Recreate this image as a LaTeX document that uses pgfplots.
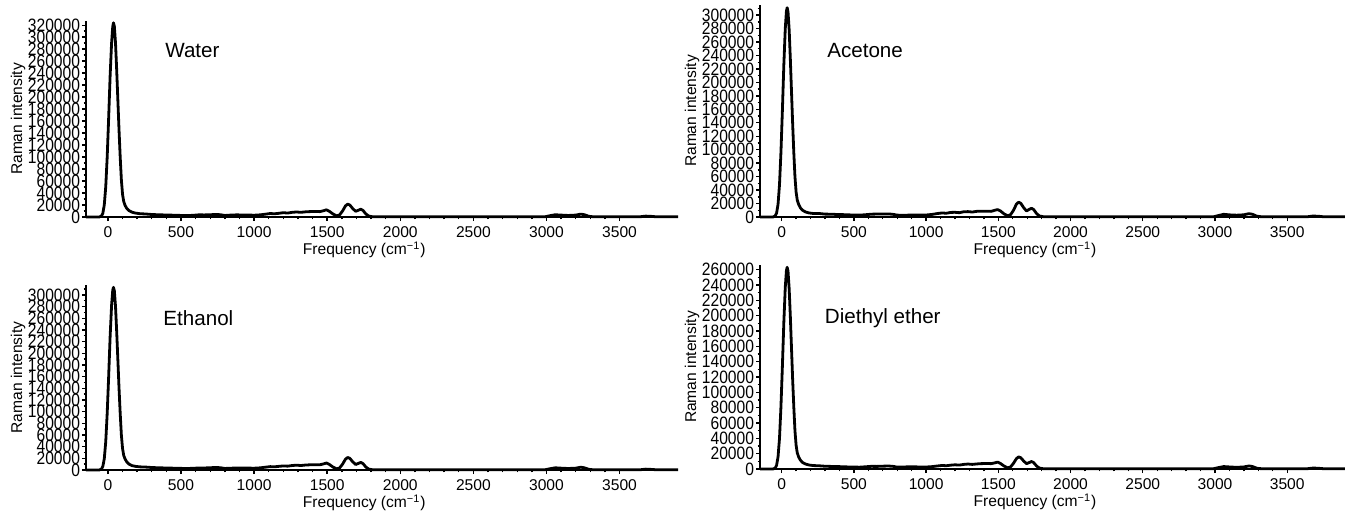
\documentclass[border=0pt]{standalone}
\usepackage{fontspec}
\setmainfont{Liberation Sans}
\usepackage{pgfplots}
\pgfplotsset{compat=1.18}

\pgfplotsset{raman/.style={
  scale only axis,
  xmin=-150, xmax=3900, ymin=0,
  axis x line=bottom, axis y line=left,
  axis line style={-, line width=1pt},
  xtick={0,500,...,3500}, minor x tick num=4,
  ytick distance=20000, minor y tick num=1,
  tick align=outside, major tick length=2pt, minor tick length=1.2pt,
  every tick/.style={black, line width=0.7pt},
  scaled y ticks=false, scaled x ticks=false,
  font=\fontsize{7.8}{8}\selectfont,
  /pgf/number format/fixed,
  /pgf/number format/precision=0,
  /pgf/number format/assume math mode=true,
  /pgf/number format/1000 sep={},
  yticklabel style={inner sep=0.8pt, yscale=1.15},
  xticklabel style={inner sep=2.8pt},
  xlabel={Frequency (cm\textsuperscript{−1})},
  ylabel={Raman intensity},
  xlabel style={at={(axis description cs:0.47,0)}, anchor=center, yshift=-16.5pt},
  ylabel style={at={(axis description cs:0,0.5)}, anchor=center, yshift=34pt},
  clip=false,
}}
\tikzset{spec/.style={black, line width=1.4pt, line join=round},
  lab/.style={anchor=west, inner sep=0pt, font=\fontsize{10.3}{12}\selectfont}}

\begin{document}
\begin{tikzpicture}
\useasboundingbox (0,0) rectangle (672.5pt,-258pt);

% Water
\begin{axis}[raman, width=296pt, height=98pt, ymax=327000,
  at={(43pt,-108.5pt)}, anchor=south west]
\addplot[spec] coordinates {
(-150,0) (-60,0) (-45,1500) (-35,6000) (-25,20000) (-15,50000) (-5,100000) (5,165000)
(15,235000) (25,290000) (33,318000) (38,324000) (44,318000) (52,290000) (60,245000)
(68,195000) (76,145000) (84,100000) (92,62000) (100,38000) (108,26000) (118,19000)
(130,14000) (145,10500) (165,8000) (190,6500) (220,5500) (260,5000) (300,4200)
(340,3800) (380,3500) (420,3200) (460,3000) (500,2600) (540,2400) (580,2800)
(620,3600) (660,3500) (700,3800) (740,4300) (770,3800) (800,2600) (840,3200)
(880,3600) (920,3400) (960,3300) (1000,3000) (1040,3600) (1080,4800) (1110,5800)
(1140,5400) (1170,6200) (1200,7200) (1230,6600) (1260,7800) (1290,8400) (1320,7800)
(1350,8600) (1380,9000) (1420,9200) (1450,9000) (1475,10500) (1495,12000) (1515,9500)
(1540,5000) (1565,2000) (1585,3500) (1605,10000) (1625,18500) (1640,21500) (1655,20000)
(1675,14000) (1695,9500) (1715,11500) (1730,13000) (1745,11000) (1765,5000) (1785,1500)
(1810,500) (2000,300) (2500,300) (2990,400) (3020,2000) (3060,3800) (3100,3200)
(3150,2600) (3200,3200) (3235,4800) (3260,3800) (3290,1200) (3320,400) (3640,400)
(3680,1500) (3720,1000) (3750,400) (3900,300)};
\node[lab] at (axis cs:390,277000) {Water};
\end{axis}

% Acetone
\begin{axis}[raman, width=292.5pt, height=106pt, ymax=315000,
  at={(380pt,-108.5pt)}, anchor=south west]
\addplot[spec] coordinates {
(-150,0) (-60,0) (-45,1500) (-35,6000) (-25,19000) (-15,48000) (-5,96000) (5,158000)
(15,226000) (25,280000) (33,306000) (38,311000) (44,305000) (52,278000) (60,235000)
(68,187000) (76,139000) (84,96000) (92,60000) (100,37000) (108,25000) (118,18500)
(130,13500) (145,10000) (165,7500) (190,6000) (220,5200) (260,5200) (300,4300)
(340,4200) (380,3800) (420,3600) (460,3200) (500,3000) (540,2800) (580,3400)
(620,4200) (660,4400) (700,4500) (740,4600) (770,4000) (800,2800) (840,2600)
(880,2800) (920,2900) (960,3000) (1000,3000) (1040,3800) (1080,5200) (1110,6000)
(1140,5600) (1170,6800) (1200,7000) (1230,6400) (1260,7800) (1290,8000) (1320,7400)
(1350,8400) (1380,8600) (1420,8600) (1450,8400) (1475,10000) (1495,11000) (1515,9000)
(1540,4500) (1565,1800) (1585,3500) (1605,10000) (1625,19000) (1640,22000) (1655,20500)
(1675,14000) (1695,9000) (1715,11500) (1730,13000) (1745,11000) (1765,5000) (1785,1500)
(1810,500) (2000,300) (2500,300) (2990,400) (3020,2000) (3060,4000) (3100,3200)
(3150,2700) (3200,3300) (3235,5000) (3260,4000) (3290,1200) (3320,400) (3640,400)
(3680,1500) (3720,1000) (3750,400) (3900,300)};
\node[lab] at (axis cs:313,248000) {Acetone};
\end{axis}

% Ethanol
\begin{axis}[raman, width=296pt, height=92.5pt, ymax=317000,
  at={(43pt,-235pt)}, anchor=south west]
\addplot[spec] coordinates {
(-150,0) (-60,0) (-45,1500) (-35,6000) (-25,19000) (-15,48000) (-5,97000) (5,160000)
(15,228000) (25,282000) (33,308000) (38,313000) (44,307000) (52,280000) (60,237000)
(68,189000) (76,140000) (84,97000) (92,60000) (100,37000) (108,25000) (118,18500)
(130,13500) (145,10000) (165,7500) (190,6200) (220,5400) (260,5000) (300,4300)
(340,3900) (380,3600) (420,3300) (460,3100) (500,2800) (540,2600) (580,2900)
(620,3500) (660,3500) (700,3900) (740,4400) (770,3900) (800,2700) (840,3100)
(880,3500) (920,3400) (960,3300) (1000,3100) (1040,3700) (1080,4900) (1110,5800)
(1140,5500) (1170,6300) (1200,7000) (1230,6600) (1260,7700) (1290,8300) (1320,7700)
(1350,8500) (1380,8900) (1420,9100) (1450,9000) (1475,10500) (1495,12000) (1515,9500)
(1540,5000) (1565,2000) (1585,3500) (1605,10000) (1625,18500) (1640,21500) (1655,20000)
(1675,14000) (1695,9500) (1715,11500) (1730,13000) (1745,11000) (1765,5000) (1785,1500)
(1810,500) (2000,300) (2500,300) (2990,400) (3020,2000) (3060,3800) (3100,3200)
(3150,2600) (3200,3200) (3235,4800) (3260,3800) (3290,1200) (3320,400) (3640,400)
(3680,1500) (3720,1000) (3750,400) (3900,300)};
\node[lab] at (axis cs:377,260000) {Ethanol};
\end{axis}

% Diethyl ether
\begin{axis}[raman, width=292.5pt, height=102pt, ymax=266000,
  at={(380pt,-234.5pt)}, anchor=south west]
\addplot[spec] coordinates {
(-150,0) (-60,0) (-45,1200) (-35,5000) (-25,16000) (-15,40000) (-5,81000) (5,134000)
(15,191000) (25,237000) (33,259000) (38,263000) (44,258000) (52,235000) (60,199000)
(68,158000) (76,117000) (84,81000) (92,50000) (100,31000) (108,21000) (118,15500)
(130,11500) (145,8500) (165,6500) (190,5200) (220,4500) (260,4200) (300,3600)
(340,3400) (380,3200) (420,3000) (460,2700) (500,2500) (540,2400) (580,2900)
(620,3500) (660,3400) (700,3700) (740,3900) (770,3500) (800,2500) (840,2600)
(880,2900) (920,2800) (960,2700) (1000,2600) (1040,3100) (1080,4000) (1110,4600)
(1140,4300) (1170,5000) (1200,5500) (1230,5100) (1260,6000) (1290,6500) (1320,6000)
(1350,6600) (1380,7000) (1420,7200) (1450,7000) (1475,8000) (1495,9000) (1515,7200)
(1540,3800) (1565,1500) (1585,2800) (1605,7500) (1625,13500) (1640,15800) (1655,14800)
(1675,10500) (1695,7000) (1715,8500) (1730,9800) (1745,8300) (1765,3800) (1785,1200)
(1810,400) (2000,300) (2500,300) (2990,400) (3020,1700) (3060,3200) (3100,2700)
(3150,2200) (3200,2700) (3235,4000) (3260,3200) (3290,1000) (3320,400) (3640,400)
(3680,1300) (3720,900) (3750,400) (3900,300)};
\node[lab] at (axis cs:297,197000) {Diethyl ether};
\end{axis}
\end{tikzpicture}
\end{document}
